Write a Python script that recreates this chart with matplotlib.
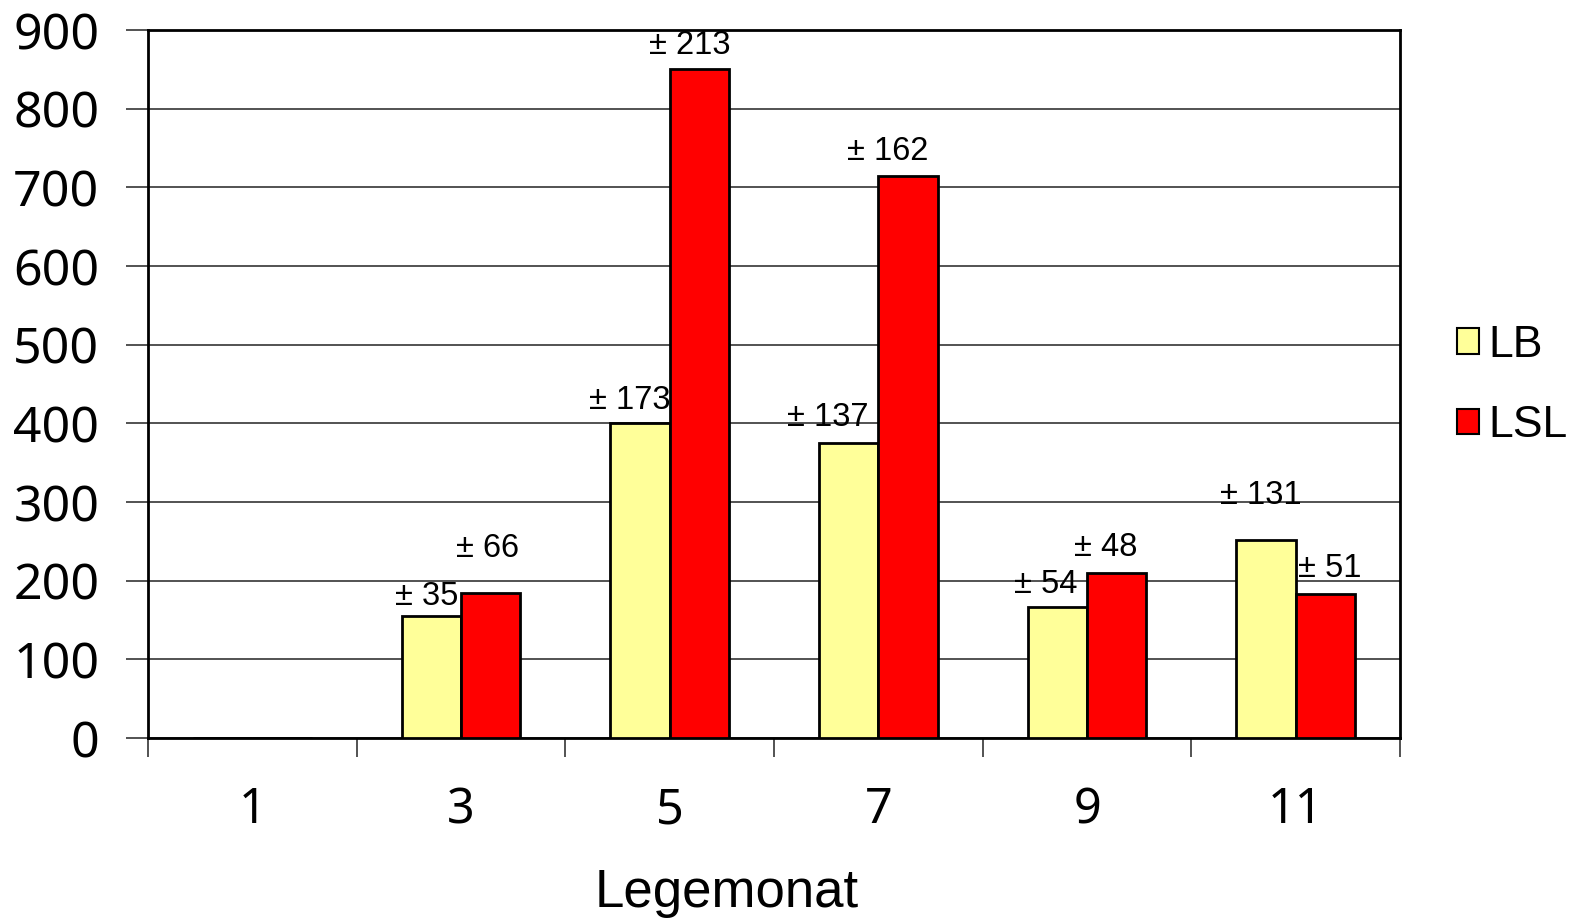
import matplotlib
matplotlib.use("Agg")
import matplotlib.pyplot as plt
from matplotlib.patches import Patch
import numpy as np

months = ["1", "3", "5", "7", "9", "11"]
lb = [0, 155, 401, 375, 166, 252]
lsl = [0, 184, 850, 714, 210, 183]
lb_err = ["", "± 35", "± 173", "± 137", "± 54", "± 131"]
lsl_err = ["", "± 66", "± 213", "± 162", "± 48", "± 51"]
y_ticks = [0, 100, 200, 300, 400, 500, 600, 700, 800, 900]

# label offsets (points) relative to the bar top-centre
lb_off = [(0, 0), (-3, 3), (-7, 5), (-15, 7), (-8, 5), (-4, 21)]
lsl_off = [(0, 0), (-2, 21), (-7, 6), (-15, 7), (-8, 7), (3, 7)]

fig = plt.figure(figsize=(15.72, 9.24), dpi=100)
ax = fig.add_axes([148/1572, 1-738/924, (1400-148)/1572, (738-30)/924])

x = np.arange(len(months))
w = 0.285
yellow = "#FFFF99"
red = "#FF0000"
ax.bar(x - w/2, lb, w, color=yellow, edgecolor="black", linewidth=2, zorder=3)
ax.bar(x + w/2, lsl, w, color=red, edgecolor="black", linewidth=2, zorder=3)

tfont = dict(family="Liberation Sans", fontsize=23.5)
for i in range(len(months)):
    if lb_err[i]:
        ax.annotate(lb_err[i], (x[i] - w/2, lb[i]), xytext=lb_off[i],
                    textcoords="offset points", ha="center", va="bottom", **tfont, zorder=4)
    if lsl_err[i]:
        ax.annotate(lsl_err[i], (x[i] + w/2, lsl[i]), xytext=lsl_off[i],
                    textcoords="offset points", ha="center", va="bottom", **tfont, zorder=4)

ax.set_xlim(-0.5, len(months) - 0.5)
ax.set_ylim(0, 900)
ax.set_yticks(y_ticks)
ax.yaxis.grid(True, color="#444444", linewidth=1.3, zorder=0)
ax.set_axisbelow(True)

ax.set_xticks(x)
ax.set_xticklabels(months)
ax.set_xticks(np.arange(-0.5, len(months)), minor=True)
ax.tick_params(axis="x", which="major", length=0, pad=34, labelsize=35)
ax.tick_params(axis="x", which="minor", length=14, width=1.3, color="#444444", direction="out")
ax.tick_params(axis="y", length=16, width=1.3, color="#444444", pad=19, labelsize=36)
for lab in ax.get_xticklabels() + ax.get_yticklabels():
    lab.set_family("Noto Sans")

for s in ax.spines.values():
    s.set_color("black")
    s.set_linewidth(2)

fig.text(727/1572, 1-893/924, "Legemonat", family="Liberation Sans", fontsize=38,
         ha="center", va="center")

handles = [Patch(facecolor=yellow, edgecolor="black", linewidth=1.5, label="LB"),
           Patch(facecolor=red, edgecolor="black", linewidth=1.5, label="LSL")]
leg = fig.legend(handles=handles, loc="center left", bbox_to_anchor=(1457/1572, 1-385.5/924),
                 frameon=False, prop=dict(family="Liberation Sans", size=32),
                 handlelength=0.5, handleheight=0.5, handletextpad=0.2, labelspacing=0.89,
                 borderpad=0, borderaxespad=0)

fig.savefig("out.png", dpi=100)
